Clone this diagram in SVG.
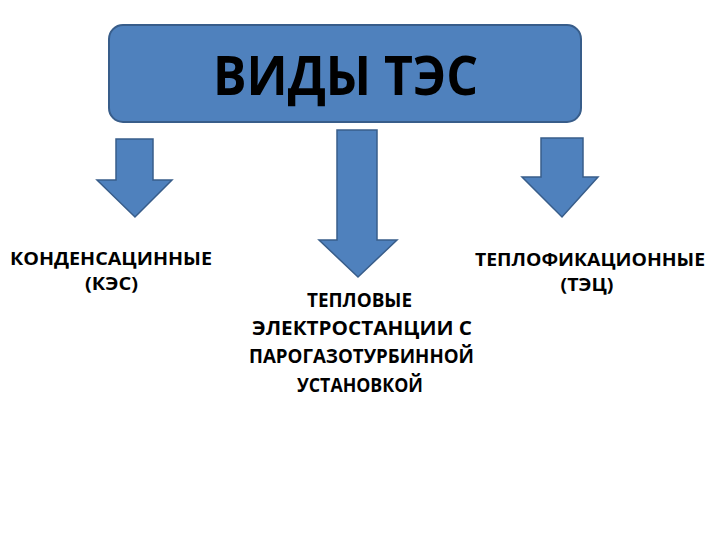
<svg xmlns="http://www.w3.org/2000/svg" width="720" height="540" viewBox="0 0 720 540">
<style>
.box{fill:#4F81BD;stroke:#385D8A;stroke-width:2}
.arr{fill:#4F81BD;stroke:#385D8A;stroke-width:1.5;stroke-linejoin:miter}
text{font-family:"Open Sans","DejaVu Sans",sans-serif;font-weight:bold;fill:#000;text-anchor:middle}
.t{font-size:19.5px}
.s{font-size:18px}
.h{font-size:53px}
</style>
<rect width="720" height="540" fill="#fff"/>
<g id="title">
<rect class="box" x="109" y="25" width="472" height="97" rx="14"/>
<text class="h" x="345.5" y="95" textLength="265" lengthAdjust="spacingAndGlyphs">ВИДЫ ТЭС</text>
</g>
<g id="connectors">
<polygon class="arr" points="116,139 153,139 153,180 172,180 135,217 97,180 116,180"/>
<polygon class="arr" points="337,130 377,130 377,240 397,240 358,277 319,240 337,240"/>
<polygon class="arr" points="541,138 583,138 583,177 598,177 562,217 522,177 541,177"/>
</g>
<g id="kes">
<text class="s" x="111" y="265" textLength="202" lengthAdjust="spacingAndGlyphs">КОНДЕНСАЦИННЫЕ</text>
<text class="s" x="111.5" y="290" textLength="53" lengthAdjust="spacingAndGlyphs">(КЭС)</text>
</g>
<g id="pgu">
<text class="t" x="359.5" y="307" textLength="105" lengthAdjust="spacingAndGlyphs">ТЕПЛОВЫЕ</text>
<text class="t" x="362" y="335" textLength="220" lengthAdjust="spacingAndGlyphs">ЭЛЕКТРОСТАНЦИИ С</text>
<text class="t" x="361.5" y="363" textLength="225" lengthAdjust="spacingAndGlyphs">ПАРОГАЗОТУРБИННОЙ</text>
<text class="t" x="360" y="392" textLength="126" lengthAdjust="spacingAndGlyphs">УСТАНОВКОЙ</text>
</g>
<g id="tec">
<text class="s" x="590" y="266" textLength="230" lengthAdjust="spacingAndGlyphs">ТЕПЛОФИКАЦИОННЫЕ</text>
<text class="s" x="587" y="291" textLength="53" lengthAdjust="spacingAndGlyphs">(ТЭЦ)</text>
</g>
</svg>
